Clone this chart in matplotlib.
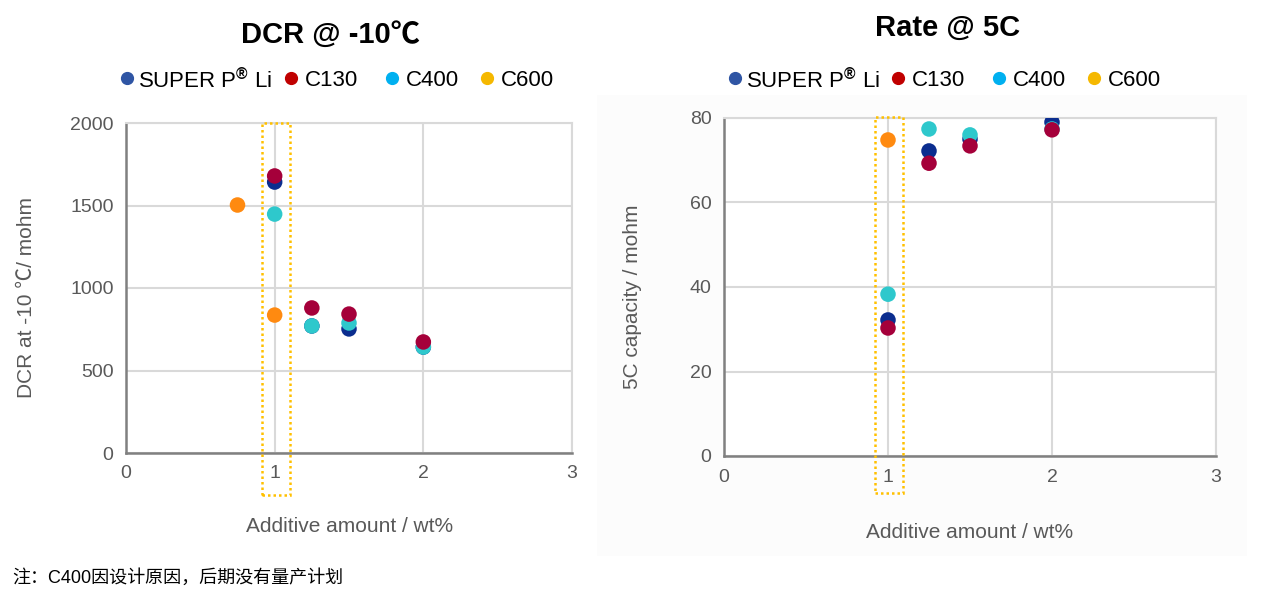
import matplotlib
matplotlib.use("Agg")
import matplotlib.pyplot as plt
from matplotlib.lines import Line2D
from matplotlib.patches import Rectangle

plt.rcParams['font.family'] = ['Liberation Sans', 'Noto Sans CJK SC', 'DejaVu Sans']
plt.rcParams['mathtext.fontset'] = 'custom'
plt.rcParams['mathtext.rm'] = 'Liberation Sans'
plt.rcParams['mathtext.bf'] = 'Liberation Sans:bold'

# ---------------- data ----------------
series_names = ["SUPER P® Li", "C130", "C400", "C600"]
legend_colors = ["#2f55a4", "#c00000", "#00b0f0", "#f5b800"]
marker_colors = ["#0b2d8f", "#a5003a", "#2ec8cc", "#ff8a10"]

# DCR @ -10C
dcr_x = {
    "SUPER P® Li": [1.0, 1.25, 1.5, 2.0],
    "C130": [1.0, 1.25, 1.5, 2.0],
    "C400": [1.0, 1.25, 1.5, 2.0],
    "C600": [0.75, 1.0],
}
dcr_y = {
    "SUPER P® Li": [1642, 770, 752, 642],
    "C130": [1679, 879, 842, 673],
    "C400": [1448, 770, 788, 642],
    "C600": [1503, 836],
}
# Rate @ 5C
rate_x = {
    "SUPER P® Li": [1.0, 1.25, 1.5, 2.0],
    "C130": [1.0, 1.25, 1.5, 2.0],
    "C400": [1.0, 1.25, 1.5, 2.0],
    "C600": [1.0],
}
rate_y = {
    "SUPER P® Li": [32.2, 72.2, 75.0, 79.0],
    "C130": [30.3, 69.3, 73.4, 77.2],
    "C400": [38.3, 77.4, 76.0, 77.4],
    "C600": [74.8],
}
draw_order = ["SUPER P® Li", "C400", "C130", "C600"]

x_ticks = [0, 1, 2, 3]
dcr_ticks = [0, 500, 1000, 1500, 2000]
rate_ticks = [0, 20, 40, 60, 80]

titles = ["DCR @ -10\u2103", "Rate @ 5C"]
xlabel = "Additive amount / wt%"
ylabels = ["DCR at -10 \u2103/ mohm", "5C capacity / mohm"]
note = "注：C400因设计原因，后期没有量产计划"

# ---------------- figure ----------------
W, H = 1270, 599
fig = plt.figure(figsize=(W / 100, H / 100), dpi=100)
fig.patch.set_facecolor("white")

def fx(px):
    return px / W

def fy(py):
    return 1 - py / H

# very light background of the right panel
fig.add_artist(Rectangle((fx(597), fy(556)), fx(1247) - fx(597), fy(95) - fy(556),
                         transform=fig.transFigure, facecolor="#fcfcfc",
                         edgecolor="none", zorder=0))

ax1 = fig.add_axes([fx(126), fy(453), fx(572) - fx(126), fy(123) - fy(453)])
ax2 = fig.add_axes([fx(724), fy(456), fx(1216) - fx(724), fy(118) - fy(456)])

grid_c = "#d9d9d9"
axis_c = "#808080"
text_c = "#595959"

def style(ax, yticks, ymax):
    ax.set_facecolor("white")
    ax.set_xlim(0, 3)
    ax.set_ylim(0, ymax)
    ax.set_xticks(x_ticks)
    ax.set_yticks(yticks)
    ax.tick_params(length=0, labelsize=14, labelcolor=text_c, pad=9)
    ax.grid(True, color=grid_c, linewidth=1.5, zorder=0)
    ax.set_axisbelow(True)
    for s in ["top", "right"]:
        ax.spines[s].set_color(grid_c)
        ax.spines[s].set_linewidth(1.5)
    for s in ["left", "bottom"]:
        ax.spines[s].set_color(axis_c)
        ax.spines[s].set_linewidth(1.8)

style(ax1, dcr_ticks, 2000)
style(ax2, rate_ticks, 80)

for name in draw_order:
    c = marker_colors[series_names.index(name)]
    ax1.scatter(dcr_x[name], dcr_y[name], s=125, color=c, edgecolors="none", zorder=3)
    ax2.scatter(rate_x[name], rate_y[name], s=125, color=c, edgecolors="none", zorder=3)

# dotted highlight boxes
ax1.add_patch(Rectangle((0.913, -255), 1.10 - 0.913, 2000 + 255, fill=False,
                        edgecolor="#ffc000", linestyle=(0, (1, 1.2)), linewidth=1.8,
                        clip_on=False, zorder=4))
ax2.add_patch(Rectangle((0.921, -8.8), 1.091 - 0.921, 80.2 + 8.8, fill=False,
                        edgecolor="#ffc000", linestyle=(0, (1, 1.2)), linewidth=1.8,
                        clip_on=False, zorder=4))

# axis labels
fig.text(fx(350), fy(527), xlabel, ha="center", va="center", fontsize=15, color=text_c)
fig.text(fx(970), fy(533), xlabel, ha="center", va="center", fontsize=15, color=text_c)
fig.text(fx(27), fy(298), ylabels[0], ha="center", va="center", rotation=90,
         fontsize=15, color=text_c)
fig.text(fx(632), fy(297), ylabels[1], ha="center", va="center", rotation=90,
         fontsize=15, color=text_c)

# titles
fig.text(fx(330), fy(35), titles[0], ha="center", va="center", fontsize=21,
         fontweight="bold", color="black")
fig.text(fx(948), fy(28), titles[1], ha="center", va="center", fontsize=21,
         fontweight="bold", color="black")

# legends
leg_labels = [r"SUPER P$^{\mathbf{®}}$ Li", "C130", "C400", "C600"]
gaps = [11, 14, 14, 14]
def legend_row(dot_xs, y):
    for i, dx in enumerate(dot_xs):
        fig.add_artist(Line2D([fx(dx)], [fy(y)], marker="o", markersize=8.5,
                              color=legend_colors[i], linestyle="none",
                              transform=fig.transFigure))
        fig.text(fx(dx + gaps[i]), fy(y), leg_labels[i], ha="left", va="center_baseline",
                 fontsize=16, color="black")

legend_row([127, 291, 392, 487], 78)
legend_row([735, 898, 999, 1094], 78)

# footnote
fig.text(fx(12), fy(578), note, ha="left", va="center", fontsize=13, color="black")

fig.savefig("out.png", dpi=100)
